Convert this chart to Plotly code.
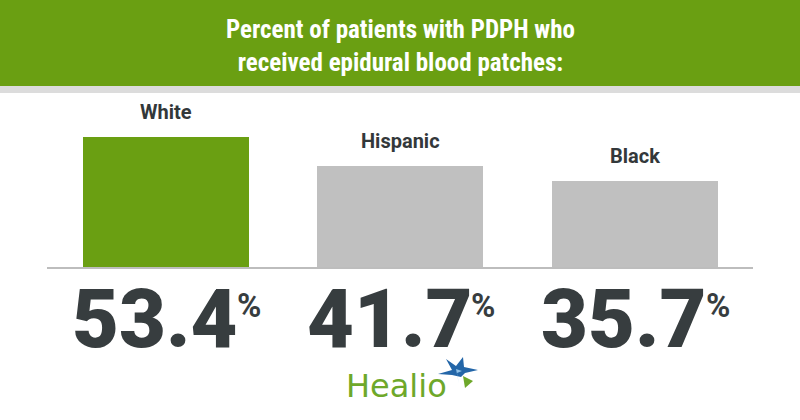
import plotly.graph_objects as go

categories = ["White", "Hispanic", "Black"]
values = [53.4, 41.7, 35.7]
bar_colors = ["#6a9f12", "#c0c0c0", "#c0c0c0"]
title_lines = ["Percent of patients with PDPH who", "received epidural blood patches:"]

W, H = 800, 420
px_per_cat = 234.5
x0 = 1 - 400 / px_per_cat
x1 = x0 + W / px_per_cat
px_per_unit = 2.45
base_px = 268
y1 = base_px / px_per_unit
y0 = -(H - base_px) / px_per_unit

xs = list(range(len(categories)))

fig = go.Figure()
fig.add_trace(go.Bar(x=xs, y=values, width=166 / px_per_cat, marker=dict(color=bar_colors, line=dict(width=0)),
                     hoverinfo="skip"))

# header
fig.add_shape(type="rect", xref="paper", yref="paper", x0=0, x1=1, y0=1 - 86 / H, y1=1,
              fillcolor="#6a9f12", line=dict(width=0), layer="below")
fig.add_shape(type="rect", xref="paper", yref="paper", x0=0, x1=1, y0=1 - 93 / H, y1=1 - 86 / H,
              fillcolor="#dcdcdc", line=dict(width=0), layer="below")
# baseline
fig.add_shape(type="line", xref="paper", yref="y", x0=47 / W, x1=753 / W, y0=0, y1=0,
              line=dict(color="#bdbdbd", width=2))

annotations = []
annotations.append(dict(xref="paper", yref="paper", x=0.5, y=1 - 46 / H, xanchor="center", yanchor="middle",
                        text="<br>".join(title_lines), showarrow=False,
                        font=dict(family="Roboto Condensed, Roboto, sans-serif", size=25, color="white", weight="bold"),
                        align="center"))
for i, (c, v) in enumerate(zip(categories, values)):
    annotations.append(dict(x=i, y=v, yshift=25, text=c, showarrow=False, xanchor="center", yanchor="middle",
                            font=dict(family="Roboto, sans-serif", size=20, color="#33383a", weight="bold")))
    annotations.append(dict(x=i, xshift=-11, y=0, yshift=-51, text=f"{v:.1f}", showarrow=False,
                            xanchor="center", yanchor="middle",
                            font=dict(family="Roboto, sans-serif", size=81, color="#373d3f", weight=900)))
    annotations.append(dict(x=i, xshift=83, y=0, yshift=-37, text="%", showarrow=False,
                            xanchor="center", yanchor="middle",
                            font=dict(family="Roboto, sans-serif", size=33, color="#373d3f", weight="bold")))

# Healio logo
annotations.append(dict(xref="paper", yref="paper", x=396 / W, y=1 - 386 / H, xanchor="center", yanchor="middle",
                        text="Healio", showarrow=False,
                        font=dict(family="DejaVu Sans, sans-serif", size=32, color="#6ea82a")))


def pth(pts):
    return "M " + " L ".join(f"{x / W},{1 - y / H}" for x, y in pts) + " Z"


# blue star (upper-left part)
fig.add_shape(type="path", xref="paper", yref="paper", layer="above",
              path=pth([(463, 357), (464, 367), (478, 370), (465, 373), (461, 377), (452, 375), (438, 374),
                        (452, 370), (446, 359), (456, 366)]),
              fillcolor="#2366a8", line=dict(width=0))
# green point (lower-right)
fig.add_shape(type="path", xref="paper", yref="paper", layer="above",
              path=pth([(463, 376), (473, 381), (465, 388)]),
              fillcolor="#6ea82a", line=dict(width=0))
# light sparkle
fig.add_shape(type="path", xref="paper", yref="paper", layer="above",
              path=pth([(456, 369), (462, 371), (457, 373), (459, 384)]),
              fillcolor="#8fc1e8", line=dict(width=0))

fig.update_layout(
    width=W, height=H, margin=dict(l=0, r=0, t=0, b=0),
    paper_bgcolor="white", plot_bgcolor="white", showlegend=False,
    xaxis=dict(range=[x0, x1], visible=False, fixedrange=True),
    yaxis=dict(range=[y0, y1], visible=False, fixedrange=True),
    annotations=annotations, bargap=0,
)
fig.write_html("out.html", config={"displayModeBar": False})
